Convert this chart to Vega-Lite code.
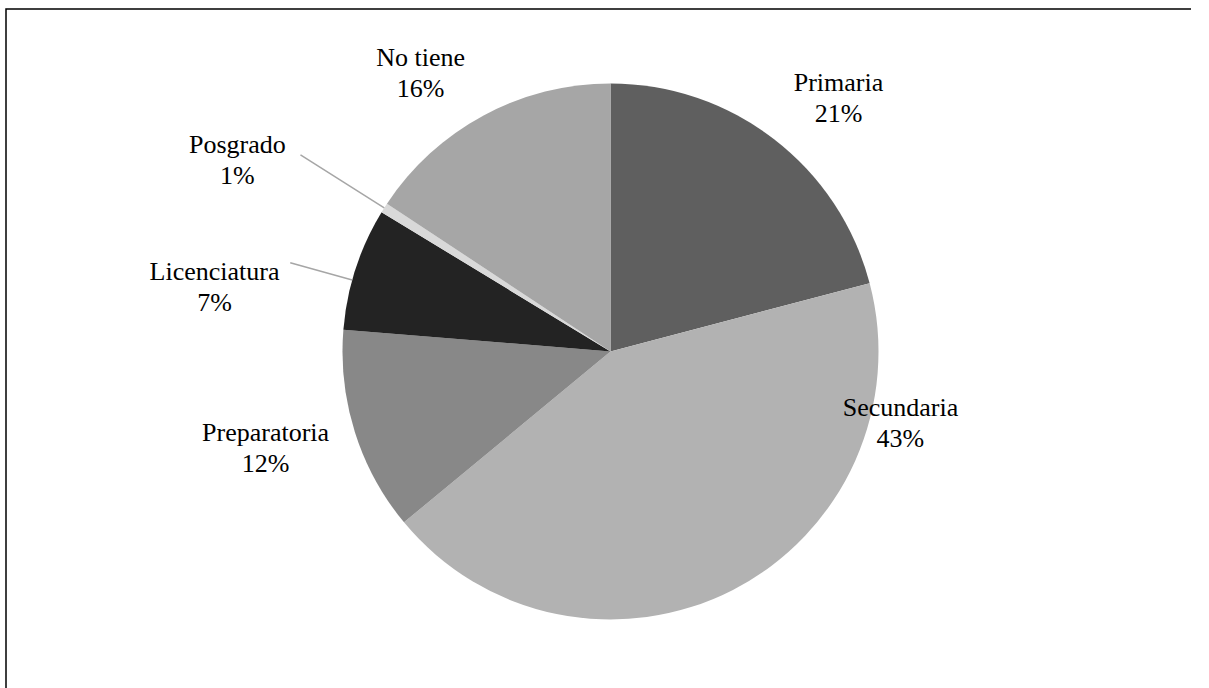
{
  "$schema": "https://vega.github.io/schema/vega-lite/v6.json",
  "width": 1209,
  "height": 685,
  "autosize": {"type": "none"},
  "padding": {"left": 6, "top": 9, "right": -24, "bottom": -6},
  "background": "white",
  "config": {
    "view": {"stroke": "black", "strokeWidth": 1.5},
    "style": {"view": {"stroke": "black", "strokeWidth": 1.5}},
    "font": "Liberation Serif"
  },
  "datasets": {
    "shares": [
      {"category": "Primaria", "value": 20.9, "n": 1},
      {"category": "Secundaria", "value": 43.1, "n": 2},
      {"category": "Preparatoria", "value": 12.3, "n": 3},
      {"category": "Licenciatura", "value": 7.4, "n": 4},
      {"category": "Posgrado", "value": 0.6, "n": 5},
      {"category": "No tiene", "value": 15.7, "n": 6}
    ],
    "labels": [
      {"label": "Primaria\n21%", "angle": 11.67, "dist": 1.271},
      {"label": "Secundaria\n43%", "angle": 28.89, "dist": 1.115},
      {"label": "Preparatoria\n12%", "angle": 70.64, "dist": 1.337},
      {"label": "Licenciatura\n7%", "angle": 77.56, "dist": 1.497},
      {"label": "Posgrado\n1%", "angle": 82.53, "dist": 1.564},
      {"label": "No tiene\n16%", "angle": 90.46, "dist": 1.256}
    ],
    "leaders": [
      {"category": "Licenciatura", "angle": 79.3, "r0": 1.0, "r1": 1.24},
      {"category": "Posgrado", "angle": 84.0, "r0": 1.0, "r1": 1.37}
    ]
  },
  "layer": [
    {
      "data": {"name": "shares"},
      "mark": {"type": "arc", "outerRadius": 268},
      "encoding": {
        "theta": {"field": "value", "type": "quantitative", "stack": true, "scale": {"domain": [0, 100]}},
        "order": {"field": "n", "type": "quantitative"},
        "color": {
          "field": "category",
          "type": "nominal",
          "scale": {
            "domain": ["Primaria", "Secundaria", "Preparatoria", "Licenciatura", "Posgrado", "No tiene"],
            "range": ["#5f5f5f", "#b2b2b2", "#888888", "#232323", "#d9d9d9", "#a6a6a6"]
          },
          "legend": null
        }
      }
    },
    {
      "data": {"name": "leaders"},
      "mark": {"type": "arc", "filled": false, "color": "#a6a6a6", "strokeWidth": 1.5},
      "encoding": {
        "theta": {"field": "angle", "type": "quantitative"},
        "theta2": {"field": "angle"},
        "radius": {"field": "r1", "type": "quantitative", "scale": {"type": "linear", "domain": [0, 1], "range": [0, 268]}},
        "radius2": {"field": "r0"}
      }
    },
    {
      "data": {"name": "labels"},
      "mark": {"type": "text", "fontSize": 26, "lineBreak": "\n", "lineHeight": 31, "baseline": "middle", "align": "center", "dy": -15.5, "color": "black", "font": "Liberation Serif"},
      "encoding": {
        "theta": {"field": "angle", "type": "quantitative"},
        "radius": {"field": "dist", "type": "quantitative"},
        "text": {"field": "label", "type": "nominal"}
      }
    }
  ]
}
